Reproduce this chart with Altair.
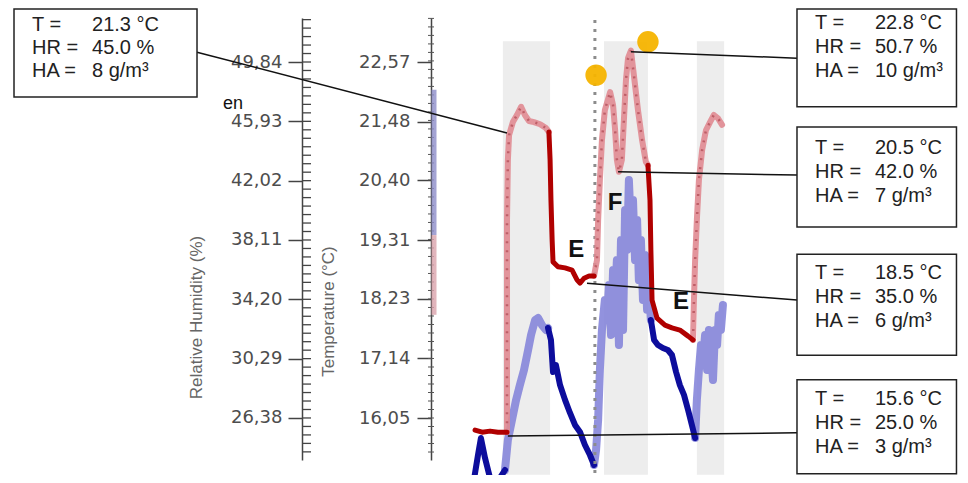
import altair as alt
import pandas as pd
import numpy as np

# ---------------- axis definitions ----------------
RH_TICKS = [26.38, 30.29, 34.20, 38.11, 42.02, 45.93, 49.84]
TEMP_TICKS = [16.05, 17.14, 18.23, 19.31, 20.40, 21.48, 22.57]
RH_DOMAIN = [23.61, 52.74]
TEMP_DOMAIN = [15.281, 23.376]
TIME_DOMAIN = [0, 100]

# ---------------- temperature series (time index, deg C) ----------------
RED_DARK_A_T = [14.7, 17.1, 19.8, 22.5, 25.6]
RED_DARK_A_V = [15.83, 15.79, 15.81, 15.79, 15.79]
RED_LIGHT_A_T = [25.6, 25.6, 25.6, 25.6, 25.9, 26.3, 27.6, 29.0, 30.4, 31.7, 33.1, 34.8, 36.9, 38.9, 39.9]
RED_LIGHT_A_V = [15.79, 16.75, 18.21, 19.68, 20.78, 21.23, 21.47, 21.60, 21.75, 21.60, 21.49, 21.47, 21.43, 21.36, 21.29]
RED_DARK_B_T = [39.9, 40.3, 40.6, 41.0, 41.3, 43.0, 45.4, 47.8, 49.5, 50.5, 51.9, 53.6, 55.3]
RED_DARK_B_V = [21.29, 20.78, 20.04, 19.31, 18.91, 18.82, 18.80, 18.76, 18.58, 18.52, 18.61, 18.65, 18.65]
RED_LIGHT_B_T = [55.3, 56.3, 56.7, 57.3, 58.0, 59.0, 60.8, 61.8, 62.5, 63.1, 63.8, 64.8, 65.5, 66.2, 66.9, 67.9, 68.9, 70.3, 71.7, 73.0, 73.7]
RED_LIGHT_B_V = [18.65, 18.94, 19.68, 20.41, 21.14, 21.69, 22.02, 21.78, 21.32, 20.78, 20.56, 20.78, 21.51, 22.24, 22.64, 22.78, 22.33, 21.69, 21.14, 20.74, 20.68]
RED_DARK_C_T = [73.7, 74.4, 74.7, 75.1, 76.8, 79.5, 81.9, 84.6, 87.4, 89.1]
RED_DARK_C_V = [20.68, 20.04, 19.13, 18.21, 17.88, 17.75, 17.70, 17.66, 17.55, 17.48]
RED_LIGHT_C_T = [89.1, 89.4, 89.8, 90.4, 91.1, 92.2, 93.5, 94.9, 96.2, 97.6, 99.0]
RED_LIGHT_C_V = [17.48, 18.21, 18.94, 19.68, 20.41, 20.96, 21.32, 21.47, 21.60, 21.54, 21.42]

# ---------------- relative humidity series (time index, %) ----------------
BLUE_DARK_A_T = [14.3, 15.7, 16.7, 18.1, 19.8, 21.5, 23.2, 24.9]
BLUE_DARK_A_V = [22.29, 23.94, 25.06, 23.74, 22.43, 22.29, 22.43, 22.95]
BLUE_LIGHT_A_T = [24.9, 25.9, 27.3, 28.7, 30.0, 31.4, 32.8, 33.8, 35.2, 36.2, 37.5, 38.9, 39.6]
BLUE_LIGHT_A_V = [22.95, 24.93, 26.25, 27.57, 28.55, 29.54, 30.86, 31.85, 32.84, 32.97, 32.51, 32.18, 32.31]
BLUE_DARK_B_T = [39.6, 40.6, 41.3, 42.3, 43.7, 45.4, 47.1, 48.8, 50.5, 52.2, 53.9, 55.3]
BLUE_DARK_B_V = [32.31, 31.52, 29.41, 29.87, 28.55, 27.57, 26.71, 25.92, 25.46, 24.60, 23.94, 23.28]
BLUE_LIGHT_B_T = [55.3, 56.0, 56.7, 57.3, 58.0, 59.0, 59.7, 60.4, 61.1, 61.8, 62.5, 63.1, 63.8, 64.5, 65.2,
                  65.9, 66.6, 67.2, 67.9, 68.6, 69.3, 70.0, 70.6, 71.3, 72.0, 72.7, 73.4, 74.1, 74.7]
BLUE_LIGHT_B_V = [23.28, 24.27, 26.25, 29.54, 32.18, 34.16, 32.84, 35.14, 31.85, 36.13, 34.16, 36.79, 31.19, 38.11, 32.18,
                  40.09, 37.45, 42.06, 38.77, 40.75, 36.79, 39.43, 35.47, 38.11, 34.16, 37.12, 33.50, 34.82, 32.84]
BLUE_DARK_C_T = [74.7, 75.8, 77.1, 78.8, 80.5, 81.9, 83.3, 84.6, 86.0, 87.4, 88.7, 89.8]
BLUE_DARK_C_V = [32.84, 31.52, 31.19, 30.99, 30.86, 30.53, 29.41, 28.55, 27.90, 26.91, 25.92, 25.06]
BLUE_LIGHT_C_T = [89.8, 90.4, 91.1, 91.8, 92.5, 93.2, 93.9, 94.5, 95.2, 95.9, 96.6, 97.3, 97.9, 98.6, 99.3]
BLUE_LIGHT_C_V = [25.06, 27.57, 29.54, 31.19, 30.20, 31.85, 29.54, 32.18, 30.86, 28.88, 32.18, 31.19, 33.17, 32.18, 33.83]

# ---------------- shaded periods, markers, labels ----------------
BAND_START = [24.2, 58.7, 90.4]
BAND_END = [40.3, 73.7, 99.7]
BAND_TOP, BAND_BOTTOM = 22.95, 15.01
EVENT_T = 55.6
EVENT_RANGE = [23.34, 15.01]
DOT_T = [56.0, 73.7]
DOT_V = [22.33, 22.94]
LETTER_TEXT = ["E", "F", "E"]
LETTER_T = [49.2, 62.5, 85.0]
LETTER_V = [19.13, 19.99, 18.17]

# ---------------- annotation boxes ----------------
BOX_LABELS = ["T =", "HR =", "HA ="]
BOX_VALUES = [["21.3 °C", "45.0 %", "8 g/m³"],
              ["22.8 °C", "50.7 %", "10 g/m³"],
              ["20.5 °C", "42.0 %", "7 g/m³"],
              ["18.5 °C", "35.0 %", "6 g/m³"],
              ["15.6 °C", "25.0 %", "3 g/m³"]]
BOX_T0 = [-142.66, 124.57, 124.57, 124.57, 124.57]
BOX_T1 = [-80.20, 179.0, 179.0, 179.0, 179.0]
BOX_TOP = [23.54, 23.54, 21.38, 19.05, 16.75]
BOX_BOTTOM = [21.93, 21.75, 19.55, 17.20, 15.03]
BOX_LABEL_T = [-136.52, 130.72, 130.72, 130.72, 130.72]
BOX_VALUE_T = [-116.04, 151.19, 151.19, 151.19, 151.19]
BOX_ROWS = [[23.25, 22.83, 22.41], [23.28, 22.84, 22.41], [20.99, 20.56, 20.12],
            [18.71, 18.27, 17.83], [16.40, 15.96, 15.52]]
# leader lines: data point -> box edge
LEAD_T0 = [25.6, 67.9, 63.5, 52.9, 25.9]
LEAD_V0 = [21.27, 22.76, 20.56, 18.52, 15.72]
LEAD_T1 = [-80.20, 124.57, 124.57, 124.57, 124.57]
LEAD_V1 = [22.75, 22.64, 20.50, 18.21, 15.78]

# ---------------- build tables ----------------
def seg_frame(segments):
    rows = []
    for sid, (kind, ts, vs) in enumerate(segments):
        for i, (t, v) in enumerate(zip(ts, vs)):
            rows.append({"seg": sid, "kind": kind, "i": i, "t": t, "v": v})
    return pd.DataFrame(rows)

temp_df = seg_frame([
    ("dark", RED_DARK_A_T, RED_DARK_A_V), ("light", RED_LIGHT_A_T, RED_LIGHT_A_V),
    ("dark", RED_DARK_B_T, RED_DARK_B_V), ("light", RED_LIGHT_B_T, RED_LIGHT_B_V),
    ("dark", RED_DARK_C_T, RED_DARK_C_V), ("light", RED_LIGHT_C_T, RED_LIGHT_C_V)])
rh_df = seg_frame([
    ("dark", BLUE_DARK_A_T, BLUE_DARK_A_V), ("light", BLUE_LIGHT_A_T, BLUE_LIGHT_A_V),
    ("dark", BLUE_DARK_B_T, BLUE_DARK_B_V), ("light", BLUE_LIGHT_B_T, BLUE_LIGHT_B_V),
    ("dark", BLUE_DARK_C_T, BLUE_DARK_C_V), ("light", BLUE_LIGHT_C_T, BLUE_LIGHT_C_V)])

bands_df = pd.DataFrame({"t0": BAND_START, "t1": BAND_END, "y0": BAND_TOP, "y1": BAND_BOTTOM})
event_df = pd.DataFrame({"t0": [EVENT_T], "y0": [EVENT_RANGE[0]], "y1": [EVENT_RANGE[1]]})
dots_df = pd.DataFrame({"t": DOT_T, "v": DOT_V})
letters_df = pd.DataFrame({"t": LETTER_T, "v": LETTER_V, "txt": LETTER_TEXT})
boxes_df = pd.DataFrame({"t0": BOX_T0, "t1": BOX_T1, "y0": BOX_TOP, "y1": BOX_BOTTOM})
lead_df = pd.DataFrame({"t0": LEAD_T0, "t1": LEAD_T1, "y0": LEAD_V0, "y1": LEAD_V1})
lab_rows, val_rows = [], []
for b in range(len(BOX_VALUES)):
    for r in range(3):
        lab_rows.append({"t": BOX_LABEL_T[b], "v": BOX_ROWS[b][r], "txt": BOX_LABELS[r]})
        val_rows.append({"t": BOX_VALUE_T[b], "v": BOX_ROWS[b][r], "txt": BOX_VALUES[b][r]})
boxtext_df = pd.DataFrame(lab_rows + val_rows)
en_df = pd.DataFrame({"t": [-67.9], "v": [21.80], "txt": ["en"]})


def minor(ticks):
    step = (ticks[1] - ticks[0]) / 7.0
    return list(np.arange(ticks[0] - 7 * step, ticks[-1] + 7 * step, step))

rh_minor_df = pd.DataFrame({"v": [m for m in minor(RH_TICKS) if RH_DOMAIN[0] <= m <= RH_DOMAIN[1]]})
temp_minor_df = pd.DataFrame({"v": [m for m in minor(TEMP_TICKS) if TEMP_DOMAIN[0] <= m <= TEMP_DOMAIN[1]]})
temp_bar_df = pd.DataFrame({"y0": [22.06, 19.40], "y1": [19.40, 17.94], "c": ["#8c8cc8", "#d9a3ab"]})

# ---------------- scales and axes ----------------
xscale = alt.Scale(domain=TIME_DOMAIN, nice=False, zero=False)
temp_scale = alt.Scale(domain=TEMP_DOMAIN, nice=False, zero=False)
rh_scale = alt.Scale(domain=RH_DOMAIN, nice=False, zero=False)
LABEL_EXPR = "replace(format(datum.value, '.2f'), '.', ',')"

common_axis = dict(orient="left", labelExpr=LABEL_EXPR, tickSize=14, tickColor="#444", tickWidth=1.5,
                   domainColor="#444", domainWidth=1.5, labelFont="DejaVu Sans", labelFontSize=18,
                   labelColor="#4d4d4d", titleFont="Liberation Sans", titleFontSize=17,
                   titleFontWeight="normal", titleColor="#666", titleAngle=270, titleAlign="center",
                   titleBaseline="middle", grid=False, labelOverlap=False)
temp_axis = alt.Axis(offset=1, values=TEMP_TICKS, labelPadding=7, title="Temperature (°C)",
                     titleX=-103, titleY=293, **common_axis)
rh_axis = alt.Axis(offset=130, values=RH_TICKS, labelPadding=6, title="Relative Humidity (%)",
                   titleX=-106, titleY=299, **common_axis)


def X(f):
    return alt.X(f, type="quantitative", scale=xscale, axis=None)


def TY(f, axis=True):
    return alt.Y(f, type="quantitative", scale=temp_scale, axis=temp_axis if axis else None)


def RY(f):
    return alt.Y(f, type="quantitative", scale=rh_scale, axis=rh_axis)


# ---------------- background (temperature scale, no axis) ----------------
bands = alt.Chart(bands_df).mark_rect(color="#e6e6e6", opacity=0.7).encode(
    x=X("t0"), x2="t1", y=TY("y0", False), y2="y1")
temp_bg = alt.layer(bands)

# ---------------- humidity layer ----------------
rh_light = alt.Chart(rh_df).transform_filter(alt.datum.kind == "light").mark_line(
    color="#7f7fd8", strokeWidth=8, opacity=0.85, strokeJoin="round", strokeCap="round").encode(
    x=X("t"), y=RY("v"), detail="seg:N", order="i:Q")
rh_dark = alt.Chart(rh_df).transform_filter(alt.datum.kind == "dark").mark_line(
    color="#0d0d9c", strokeWidth=6, strokeJoin="round", strokeCap="round").encode(
    x=X("t"), y=RY("v"), detail="seg:N", order="i:Q")
rh_minor = alt.Chart(rh_minor_df).mark_rule(color="#444", strokeWidth=1.3).encode(
    x=alt.value(-130), x2=alt.value(-121), y=RY("v"))
rh_group = alt.layer(rh_light, rh_dark, rh_minor)

# ---------------- temperature layer and annotations ----------------
temp_minor = alt.Chart(temp_minor_df).mark_rule(color="#555", strokeWidth=1).encode(
    x=alt.value(-4), x2=alt.value(2), y=TY("v"))
temp_bar = alt.Chart(temp_bar_df).mark_rule(strokeWidth=5, opacity=0.8).encode(
    x=alt.value(2), y=TY("y0"), y2="y1", color=alt.Color("c:N", scale=None))
event = alt.Chart(event_df).mark_rule(color="#8c8c8c", strokeWidth=3, strokeDash=[3, 6]).encode(
    x=X("t0"), y=TY("y0"), y2="y1")
t_light = alt.Chart(temp_df).transform_filter(alt.datum.kind == "light").mark_line(
    color="#e08a91", strokeWidth=6, opacity=0.9, strokeJoin="round", strokeCap="round").encode(
    x=X("t"), y=TY("v"), detail="seg:N", order="i:Q")
t_light_dots = alt.Chart(temp_df).transform_filter(alt.datum.kind == "light").mark_line(
    color="#b5505a", strokeWidth=2.5, strokeDash=[2, 7], opacity=0.8).encode(
    x=X("t"), y=TY("v"), detail="seg:N", order="i:Q")
t_dark = alt.Chart(temp_df).transform_filter(alt.datum.kind == "dark").mark_line(
    color="#b00000", strokeWidth=5, strokeJoin="round", strokeCap="round").encode(
    x=X("t"), y=TY("v"), detail="seg:N", order="i:Q")
dots = alt.Chart(dots_df).mark_circle(color="#f5b400", size=460, opacity=0.95).encode(
    x=X("t"), y=TY("v"))
letters = alt.Chart(letters_df).mark_text(font="Liberation Sans", fontSize=24, fontWeight="bold",
                                          color="#111", align="center", baseline="middle").encode(
    x=X("t"), y=TY("v"), text="txt:N")
leads = alt.Chart(lead_df).mark_rule(color="#111", strokeWidth=1.5).encode(
    x=X("t0"), x2="t1", y=TY("y0"), y2="y1")
boxes = alt.Chart(boxes_df).mark_rect(fill="white", stroke="#222", strokeWidth=1.5).encode(
    x=X("t0"), x2="t1", y=TY("y0"), y2="y1")
box_text = alt.Chart(boxtext_df).mark_text(font="Liberation Sans", fontSize=20, color="#222",
                                           align="left", baseline="middle").encode(
    x=X("t"), y=TY("v"), text="txt:N")
en_text = alt.Chart(en_df).mark_text(font="Liberation Sans", fontSize=18, color="#111",
                                     align="center", baseline="middle").encode(
    x=X("t"), y=TY("v"), text="txt:N")

temp_fg = alt.layer(temp_minor, temp_bar, event, t_light, t_light_dots, t_dark, dots, letters,
                    leads, boxes, box_text, en_text)

chart = alt.layer(temp_bg, rh_group, temp_fg).resolve_scale(y="independent").properties(
    width=293, height=442,
    autosize=alt.AutoSizeParams(type="none"),
    padding={"left": 424, "top": 10, "right": 233, "bottom": 15},
).configure_view(strokeWidth=0)

chart.save("out.html", embed_options={"renderer": "svg", "actions": False})
